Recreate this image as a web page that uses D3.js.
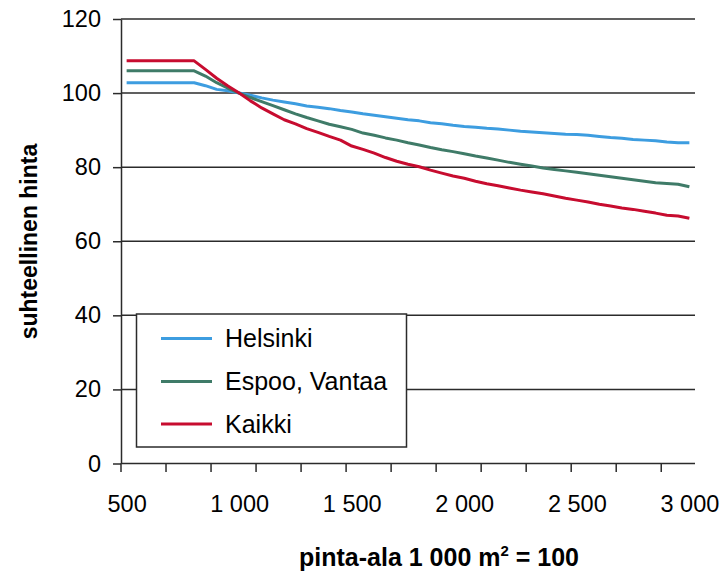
<!DOCTYPE html>
<html>
<head>
<meta charset="utf-8">
<script src="https://cdn.jsdelivr.net/npm/d3@7"></script>
<style>
  html, body { margin: 0; padding: 0; background: #ffffff; }
  svg { display: block; font-family: "Liberation Sans", Arial, sans-serif; }
</style>
</head>
<body>
<svg id="chart" width="723" height="573"></svg>
<script>
// Plot area (m²), one category every 50 m²
const categories = [
  500, 550, 600, 650, 700, 750, 800, 850, 900, 950,
  1000, 1050, 1100, 1150, 1200, 1250, 1300, 1350, 1400, 1450,
  1500, 1550, 1600, 1650, 1700, 1750, 1800, 1850, 1900, 1950,
  2000, 2050, 2100, 2150, 2200, 2250, 2300, 2350, 2400, 2450,
  2500, 2550, 2600, 2650, 2700, 2750, 2800, 2850, 2900, 2950,
  3000
];

// Relative price, 1 000 m² = 100
const helsinki = [
  102.8, 102.8, 102.8, 102.8, 102.8, 102.8, 102.8, 102.0, 101.0, 100.6,
  100.0, 99.4, 98.7, 98.1, 97.6, 97.1, 96.5, 96.2, 95.8, 95.3,
  94.9, 94.4, 94.0, 93.6, 93.2, 92.8, 92.5, 92.0, 91.7, 91.3,
  91.0, 90.8, 90.5, 90.3, 90.0, 89.7, 89.5, 89.3, 89.1, 88.9,
  88.8, 88.6, 88.3, 88.0, 87.8, 87.5, 87.3, 87.1, 86.8, 86.6,
  86.6
];
const espooVantaa = [
  106.0, 106.0, 106.0, 106.0, 106.0, 106.0, 106.0, 104.6, 102.8, 101.3,
  100.0, 98.8, 97.7, 96.6, 95.5, 94.4, 93.4, 92.5, 91.6, 90.9,
  90.2, 89.2, 88.6, 87.9, 87.3, 86.6, 86.0, 85.3, 84.7, 84.2,
  83.6, 83.0, 82.5, 81.9, 81.3, 80.8, 80.3, 79.8, 79.4, 79.0,
  78.6, 78.2, 77.8, 77.4, 77.0, 76.6, 76.2, 75.8, 75.6, 75.4,
  74.7
];
const kaikki = [
  108.7, 108.7, 108.7, 108.7, 108.7, 108.7, 108.7, 106.4, 104.0, 101.9,
  100.0, 97.9, 96.0, 94.4, 92.8, 91.7, 90.4, 89.4, 88.3, 87.3,
  85.7, 84.8, 83.8, 82.6, 81.6, 80.8, 80.1, 79.2, 78.4, 77.6,
  77.0, 76.2, 75.5, 75.0, 74.4, 73.8, 73.3, 72.8, 72.2, 71.6,
  71.1, 70.6, 70.0, 69.5, 69.0, 68.6, 68.1, 67.6, 67.0, 66.8,
  66.2
];

const seriesNames = ["Helsinki", "Espoo, Vantaa", "Kaikki"];
const seriesColors = ["#3d9de0", "#3f7b68", "#c70c2f"];

const xLabelValues = [500, 1000, 1500, 2000, 2500, 3000];
const xLabelTexts = ["500", "1 000", "1 500", "2 000", "2 500", "3 000"];
const yTicks = [0, 20, 40, 60, 80, 100, 120];

const series = [helsinki, espooVantaa, kaikki].map((vals, i) => ({
  name: seriesNames[i],
  color: seriesColors[i],
  values: vals.map((v, j) => ({ c: categories[j], v }))
}));

const svg = d3.select("#chart");
const plotLeft = 121, plotRight = 695, plotTop = 19, plotBottom = 463.5;

const xBand = d3.scaleBand().domain(categories).range([plotLeft, plotRight]).padding(0);
const xPoint = d3.scalePoint().domain(categories).range([plotLeft, plotRight]).padding(0.5);
const y = d3.scaleLinear().domain([0, 120]).range([plotBottom, plotTop]);

// Horizontal gridlines
svg.append("g")
  .selectAll("line")
  .data(yTicks)
  .join("line")
  .attr("x1", plotLeft).attr("x2", plotRight)
  .attr("y1", d => y(d)).attr("y2", d => y(d))
  .attr("stroke", "#2b2b2b")
  .attr("stroke-width", 1.5);

// Y axis
const yAxis = svg.append("g")
  .attr("transform", `translate(${plotLeft},0)`)
  .call(d3.axisLeft(y).tickValues(yTicks).tickSize(8).tickSizeOuter(0).tickPadding(12));
yAxis.select(".domain").attr("stroke", "#2b2b2b").attr("stroke-width", 1.5);
yAxis.selectAll(".tick line").attr("stroke", "#2b2b2b").attr("stroke-width", 1.5);
yAxis.selectAll("text")
  .attr("font-size", 23.5)
  .attr("font-family", "Liberation Sans, Arial, sans-serif")
  .attr("fill", "#000");

// X axis tick marks between categories, every fourth category
svg.append("g")
  .selectAll("line")
  .data(categories.filter((c, i) => i % 4 === 0))
  .join("line")
  .attr("x1", d => xBand(d)).attr("x2", d => xBand(d))
  .attr("y1", plotBottom).attr("y2", plotBottom + 8.5)
  .attr("stroke", "#2b2b2b")
  .attr("stroke-width", 1.5);

// X axis labels
const xAxis = svg.append("g")
  .attr("transform", `translate(0,${plotBottom})`)
  .call(d3.axisBottom(xPoint)
    .tickValues(xLabelValues)
    .tickFormat((d, i) => xLabelTexts[i])
    .tickSize(0)
    .tickPadding(32));
xAxis.select(".domain").remove();
xAxis.selectAll("text")
  .attr("font-size", 23.5)
  .attr("font-family", "Liberation Sans, Arial, sans-serif")
  .attr("fill", "#000");

// Series lines
const line = d3.line()
  .x(d => xPoint(d.c))
  .y(d => y(d.v));

svg.append("g")
  .selectAll("path")
  .data(series)
  .join("path")
  .attr("d", d => line(d.values))
  .attr("fill", "none")
  .attr("stroke", d => d.color)
  .attr("stroke-width", 3)
  .attr("stroke-linejoin", "round");

// Legend
const legend = svg.append("g");
legend.append("rect")
  .attr("x", 136.5).attr("y", 314)
  .attr("width", 270).attr("height", 133)
  .attr("fill", "#fff")
  .attr("stroke", "#2b2b2b")
  .attr("stroke-width", 1.5);
const legendRows = [338.5, 381.5, 424];
series.forEach((s, i) => {
  legend.append("line")
    .attr("x1", 161).attr("x2", 212)
    .attr("y1", legendRows[i]).attr("y2", legendRows[i])
    .attr("stroke", s.color)
    .attr("stroke-width", 3);
  legend.append("text")
    .attr("x", 225).attr("y", legendRows[i])
    .attr("dy", "0.35em")
    .attr("font-size", 25)
    .attr("fill", "#000")
    .text(s.name);
});

// Axis titles
svg.append("text")
  .attr("transform", "translate(37,241.5) rotate(-90)")
  .attr("text-anchor", "middle")
  .attr("font-size", 23)
  .attr("font-weight", "bold")
  .attr("fill", "#000")
  .text("suhteellinen hinta");

const xTitle = svg.append("text")
  .attr("x", 439).attr("y", 566)
  .attr("text-anchor", "middle")
  .attr("font-size", 25)
  .attr("font-weight", "bold")
  .attr("fill", "#000");
xTitle.append("tspan").text("pinta-ala 1 000 m");
xTitle.append("tspan").attr("font-size", 15).attr("dy", -10).text("2");
xTitle.append("tspan").attr("dy", 10).text(" = 100");
</script>
</body>
</html>
